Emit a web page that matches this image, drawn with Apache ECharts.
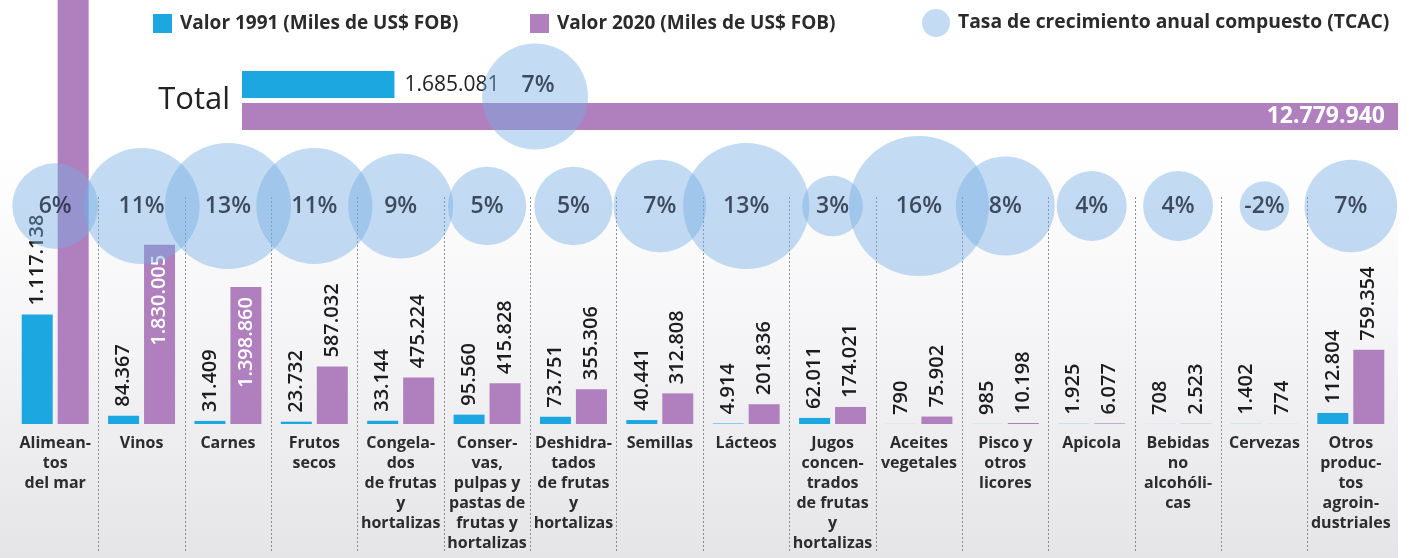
<!DOCTYPE html>
<html>
<head>
<meta charset="utf-8">
<title>Exportaciones agroindustriales 1991 - 2020</title>
<script src="https://cdn.jsdelivr.net/npm/echarts@6/dist/echarts.min.js"></script>
<style>
  html, body { margin: 0; padding: 0; background: #fff; }
  #chart { width: 1409px; height: 558px; }
</style>
</head>
<body>
<div id="chart"></div>
<script>
// datos (miles de US$ FOB)
const categories = [
  "Alimean-\ntos\ndel mar",
  "Vinos",
  "Carnes",
  "Frutos\nsecos",
  "Congela-\ndos\nde frutas\ny\nhortalizas",
  "Conser-\nvas,\npulpas y\npastas de\nfrutas y\nhortalizas",
  "Deshidra-\ntados\nde frutas\ny\nhortalizas",
  "Semillas",
  "Lácteos",
  "Jugos\nconcen-\ntrados\nde frutas\ny\nhortalizas",
  "Aceites\nvegetales",
  "Pisco y\notros\nlicores",
  "Apicola",
  "Bebidas\nno\nalcohóli-\ncas",
  "Cervezas",
  "Otros\nproduc-\ntos\nagroin-\ndustriales"
];
const valor1991 = [1117138, 84367, 31409, 23732, 33144, 95560, 73751, 40441, 4914, 62011, 790, 985, 1925, 708, 1402, 112804];
// alimentos del mar 2020 = total - resto (la barra sale del cuadro)
const valor2020 = [6174192, 1830005, 1398860, 587032, 475224, 415828, 355306, 312808, 201836, 174021, 75902, 10198, 6077, 2523, 774, 759354];
const tcac = [6, 11, 13, 11, 9, 5, 5, 7, 13, 3, 16, 8, 4, 4, -2, 7];

const total1991 = 1685081;
const total2020 = 12779940;
const totalTcac = 7;

const name1991 = "Valor 1991 (Miles de US$ FOB)";
const name2020 = "Valor 2020 (Miles de US$ FOB)";
const nameTcac = "Tasa de crecimiento anual compuesto (TCAC)";

const blue = "#1ca7e0";
const purple = "#b07fbe";
const bubble = "rgba(118, 174, 228, 0.55)";
const font = "'Open Sans', sans-serif";

const barAxisMax = 4330000;   // escala de las columnas
const totalBubbleAt = 3240000; // donde se apoya la burbuja del total

function fmt(v) {
  return String(v).replace(/\B(?=(\d{3})+(?!\d))/g, ".");
}

const outsideLabel = {
  show: true,
  position: "top",
  rotate: 90,
  align: "left",
  verticalAlign: "middle",
  distance: 9,
  fontFamily: font,
  fontSize: 20,
  fontWeight: 600,
  color: "#1c1c1c",
  formatter: (p) => fmt(p.value),
};

function barData(values) {
  return values.map((v) => {
    if (v > barAxisMax) {
      return { value: v, label: { show: false } };
    }
    if (v > 1200000 && values === valor2020) {
      return {
        value: v,
        label: {
          position: "insideTop",
          align: "right",
          distance: 10,
          color: "#fff",
        },
      };
    }
    return v;
  });
}

const chart = echarts.init(document.getElementById("chart"));

const legendText = { fontFamily: font, fontSize: 19, fontWeight: "bold", color: "#2b2b2b", padding: [0, 0, 0, 3] };

const option = {
  animation: false,
  graphic: [
    {
      type: "rect",
      z: -10,
      silent: true,
      shape: { x: 0, y: 150, width: 1398, height: 408 },
      style: {
        fill: new echarts.graphic.LinearGradient(0, 0, 0, 1, [
          { offset: 0, color: "#ffffff" },
          { offset: 0.45, color: "#f5f5f7" },
          { offset: 1, color: "#e5e5e8" },
        ]),
      },
    },
  ],
  legend: [
    { left: 148, top: 9, icon: "rect", itemWidth: 19, itemHeight: 19, data: [name1991], textStyle: legendText },
    { left: 525, top: 9, icon: "rect", itemWidth: 19, itemHeight: 19, data: [name2020], textStyle: legendText },
    {
      left: 917,
      top: 4,
      icon: "circle",
      itemWidth: 28,
      itemHeight: 28,
      data: [nameTcac],
      textStyle: Object.assign({}, legendText, { fontSize: 19.3 }),
    },
  ],
  grid: [
    // columnas
    { left: 12, right: 15, top: 0, bottom: 134 },
    // burbujas
    { left: 12, right: 15, top: 186, height: 40 },
    // separadores punteados
    { left: 12, right: 15, top: 197, bottom: 5 },
    // total
    { left: 242, right: 11, top: 71, height: 59 },
  ],
  xAxis: [
    {
      gridIndex: 0,
      type: "category",
      data: categories,
      axisLine: { show: false },
      axisTick: { show: false },
      axisLabel: {
        interval: 0,
        margin: 9,
        verticalAlign: "top",
        lineHeight: 20,
        fontFamily: font,
        fontSize: 16,
        fontWeight: "bold",
        color: "#2c2c2c",
      },
    },
    { gridIndex: 1, type: "category", data: categories, show: false },
    {
      gridIndex: 2,
      type: "category",
      data: categories,
      axisLine: { show: false },
      axisTick: { show: false },
      axisLabel: { show: false },
      splitLine: {
        show: true,
        showMinLine: false,
        showMaxLine: false,
        lineStyle: { color: "#8c8c8c", width: 1, type: [2, 2] },
      },
    },
    { gridIndex: 3, type: "value", min: 0, max: total2020, show: false },
  ],
  yAxis: [
    { gridIndex: 0, type: "value", min: 0, max: barAxisMax, show: false },
    { gridIndex: 1, type: "category", data: ["TCAC"], show: false },
    { gridIndex: 2, type: "value", show: false },
    {
      gridIndex: 3,
      type: "category",
      data: ["Total"],
      axisLine: { show: false },
      axisTick: { show: false },
      axisLabel: {
        margin: 12,
        fontFamily: font,
        fontSize: 31,
        fontWeight: 500,
        color: "#222",
      },
    },
  ],
  series: [
    {
      name: name1991,
      type: "bar",
      xAxisIndex: 0,
      yAxisIndex: 0,
      barWidth: 31,
      barGap: "16%",
      itemStyle: { color: blue },
      label: outsideLabel,
      data: barData(valor1991),
    },
    {
      name: name2020,
      type: "bar",
      xAxisIndex: 0,
      yAxisIndex: 0,
      barWidth: 31,
      barGap: "16%",
      itemStyle: { color: purple },
      label: outsideLabel,
      data: barData(valor2020),
    },
    {
      name: name1991,
      type: "bar",
      xAxisIndex: 3,
      yAxisIndex: 3,
      barWidth: 27,
      barGap: "18%",
      itemStyle: { color: blue },
      label: {
        show: true,
        position: "right",
        distance: 10,
        fontFamily: font,
        fontSize: 21,
        fontWeight: 500,
        color: "#222",
        formatter: (p) => fmt(p.value),
      },
      data: [total1991],
    },
    {
      name: name2020,
      type: "bar",
      xAxisIndex: 3,
      yAxisIndex: 3,
      barWidth: 27,
      barGap: "18%",
      itemStyle: { color: purple },
      label: {
        show: true,
        position: "insideRight",
        distance: 13,
        fontFamily: font,
        fontSize: 23,
        fontWeight: "bold",
        color: "#fff",
        formatter: (p) => fmt(p.value),
      },
      data: [total2020],
    },
    {
      name: nameTcac,
      type: "scatter",
      xAxisIndex: 1,
      yAxisIndex: 1,
      z: 5,
      symbolSize: (d) => 35 * Math.sqrt(Math.abs(d[2])),
      itemStyle: { color: bubble },
      label: {
        show: true,
        position: "inside",
        fontFamily: font,
        fontSize: 23,
        fontWeight: 600,
        color: "#1b2637",
        formatter: (p) => p.value[2] + "%",
      },
      data: tcac.map((t, i) => [i, 0, t]),
    },
    {
      name: nameTcac,
      type: "scatter",
      xAxisIndex: 3,
      yAxisIndex: 3,
      z: 5,
      symbolSize: (d) => 40 * Math.sqrt(Math.abs(d[2])),
      symbolOffset: [0, -4],
      itemStyle: { color: bubble },
      label: {
        show: true,
        position: "inside",
        offset: [3, -11],
        fontFamily: font,
        fontSize: 23,
        fontWeight: 600,
        color: "#1b2637",
        formatter: (p) => p.value[2] + "%",
      },
      data: [[totalBubbleAt, 0, totalTcac]],
    },
  ],
};

chart.setOption(option);
</script>
</body>
</html>
